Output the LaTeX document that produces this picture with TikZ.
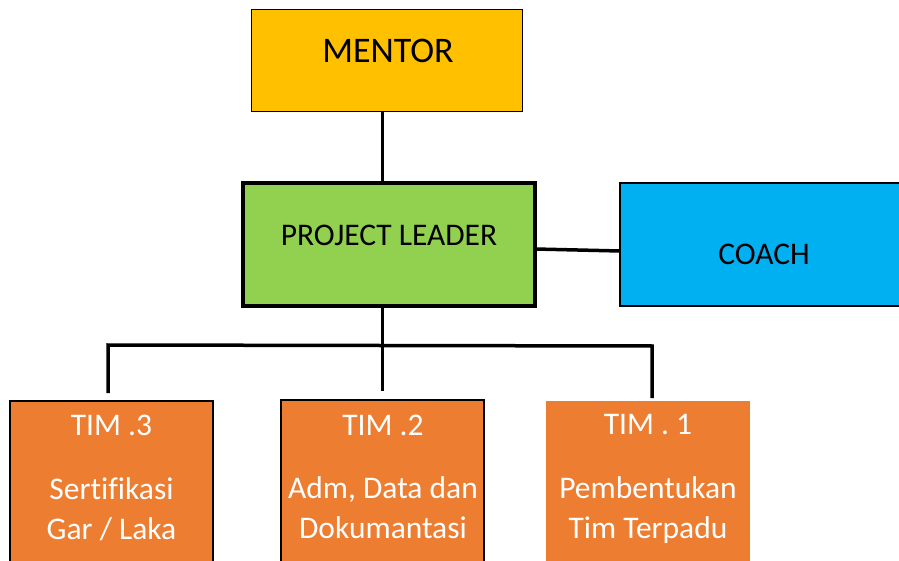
\documentclass[tikz,border=0pt]{standalone}
\usepackage{fontspec}
\setmainfont[Ligatures=NoCommon]{Carlito}
\definecolor{mentorc}{HTML}{FFC000}
\definecolor{plc}{HTML}{92D050}
\definecolor{coachc}{HTML}{00B0F0}
\definecolor{timc}{HTML}{ED7D31}
\begin{document}
\begin{tikzpicture}[x=1pt,y=-1pt,
  box/.style={rectangle, inner sep=0pt, outer sep=0pt},
  conn/.style={line width=3.5pt, line join=miter},
  txt/.style={inner sep=0pt, anchor=base, font=\fontsize{31.5}{36}\selectfont},
  wtxt/.style={txt, text=white}]
\useasboundingbox (0,0) rectangle (899,561);
\clip (0,0) rectangle (899,561);
\fill[white] (0,0) rectangle (899,561);
% boxes
\node[box, fill=mentorc, draw, line width=1pt, minimum width=271pt, minimum height=102pt] (mentor) at (386.5,61) {};
\node[box, fill=plc, draw, line width=3.5pt, minimum width=292pt, minimum height=123pt] (pl) at (389,244.5) {};
\node[box, fill=coachc, draw, line width=2pt, minimum width=290pt, minimum height=123pt] (coach) at (765,244.5) {};
\node[box, fill=timc, draw, line width=1.5pt, minimum width=203pt, minimum height=175pt] (tim3) at (111.5,488.5) {};
\node[box, fill=timc, draw, line width=1.5pt, minimum width=203pt, minimum height=175pt] (tim2) at (382.5,487.5) {};
\node[box, fill=timc, minimum width=204pt, minimum height=175pt] (tim1) at (648,488.5) {};
% texts
\node[txt, font=\fontsize{36}{40}\selectfont] (mentort) at (388,63) {MENTOR};
\node[txt] (plt) at (389,246) {PROJECT LEADER};
\node[txt] (coacht) at (764,265) {COACH};
\node[wtxt] (t3a) at (111.5,435) {TIM .3};
\node[wtxt] (t3b) at (111.5,499) {Sertifikasi};
\node[wtxt] (t3c) at (111.5,539) {Gar / Laka};
\node[wtxt] (t2a) at (383,435) {TIM .2};
\node[wtxt] (t2b) at (383,498) {Adm, Data dan};
\node[wtxt] (t2c) at (383,538) {Dokumantasi};
\node[wtxt] (t1a) at (648,434) {TIM . 1};
\node[wtxt] (t1b) at (648,498) {Pembentukan};
\node[wtxt] (t1c) at (648,538) {Tim Terpadu};
% connectors
\coordinate (b3) at (108,345);
\coordinate (b1) at (652,346);
\draw[conn] (mentor.south -| tim2.north) -- (pl.north -| tim2.north);
\draw[conn] ([yshift=-4.5pt]pl.east) -- ([yshift=-6.5pt]coach.west);
\draw[conn] (pl.south -| tim2.north) -- ([yshift=9pt]tim2.north);
\draw[conn] ([yshift=8pt]tim3.north -| b3) -- (b3) -- (b1) -- ([yshift=3pt]tim1.north -| b1);
\end{tikzpicture}
\end{document}
